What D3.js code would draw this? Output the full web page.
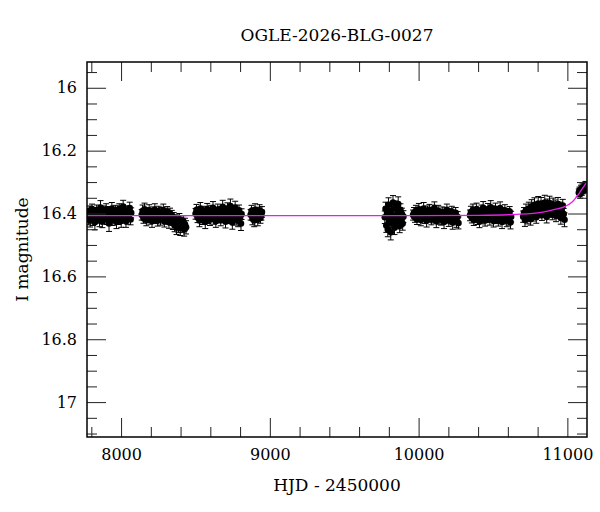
<!DOCTYPE html>
<html>
<head>
<meta charset="utf-8">
<script src="https://cdn.jsdelivr.net/npm/d3@7"></script>
<style>
  body { margin: 0; background: #fff; }
  text { font-family: "DejaVu Serif", serif; fill: #000; }
</style>
</head>
<body>
<div id="chart-area"></div>
<script>
// photometry per observing season: [HJD-2450000, I mag, error]
var season1 = [[7774,16.402,.016],[7780,16.418,.018],[7786,16.391,.015],[7792,16.423,.02],[7798,16.408,.017],[7805,16.386,.016],[7811,16.419,.019],[7817,16.398,.015],[7824,16.428,.024],[7830,16.404,.017],[7836,16.389,.016],[7843,16.412,.018],[7849,16.396,.015],[7855,16.422,.02],[7862,16.381,.022],[7868,16.409,.016],[7874,16.426,.019],[7881,16.393,.017],[7887,16.414,.016],[7893,16.401,.015],[7900,16.387,.018],[7906,16.418,.017],[7912,16.406,.016],[7919,16.432,.025],[7925,16.395,.017],[7931,16.411,.016],[7938,16.384,.019],[7944,16.420,.018],[7950,16.399,.015],[7957,16.413,.017],[7963,16.390,.016],[7969,16.427,.021],[7976,16.403,.017],[7982,16.417,.018],[7988,16.385,.016],[7995,16.409,.015],[8001,16.424,.02],[8007,16.397,.017],[8014,16.378,.02],[8020,16.412,.016],[8026,16.400,.017],[8033,16.425,.019],[8039,16.392,.016],[8045,16.416,.018],[8052,16.405,.015],[8058,16.383,.019],[8064,16.419,.017],[8068,16.398,.016]];
var season2 = [[8139,16.404,.017],[8145,16.392,.019],[8151,16.415,.016],[8158,16.387,.02],[8164,16.409,.017],[8170,16.421,.018],[8177,16.398,.016],[8183,16.412,.017],[8189,16.390,.018],[8196,16.418,.016],[8202,16.403,.017],[8208,16.424,.02],[8215,16.395,.016],[8221,16.410,.017],[8227,16.388,.019],[8234,16.416,.016],[8240,16.401,.017],[8246,16.422,.018],[8253,16.393,.016],[8259,16.407,.015],[8265,16.419,.018],[8272,16.397,.016],[8278,16.413,.017],[8284,16.389,.019],[8291,16.425,.018],[8297,16.402,.016],[8303,16.417,.017],[8310,16.394,.016],[8316,16.411,.015],[8322,16.428,.019],[8329,16.400,.017],[8335,16.419,.018],[8341,16.406,.016],[8348,16.431,.02],[8354,16.414,.017],[8360,16.437,.021],[8367,16.422,.018],[8373,16.445,.022],[8379,16.428,.019],[8386,16.441,.02],[8392,16.418,.018],[8398,16.447,.023],[8405,16.432,.019],[8411,16.439,.021],[8418,16.425,.018],[8424,16.450,.022],[8430,16.435,.02],[8437,16.444,.021]];
var season3 = [[8501,16.401,.017],[8507,16.389,.018],[8514,16.413,.016],[8520,16.396,.017],[8527,16.422,.02],[8533,16.384,.019],[8540,16.408,.016],[8546,16.418,.017],[8553,16.393,.016],[8559,16.411,.018],[8566,16.427,.021],[8572,16.399,.016],[8579,16.386,.018],[8585,16.415,.017],[8592,16.404,.015],[8598,16.420,.018],[8605,16.391,.017],[8611,16.409,.016],[8618,16.382,.02],[8624,16.417,.017],[8631,16.398,.016],[8637,16.425,.019],[8644,16.406,.017],[8650,16.388,.018],[8657,16.414,.016],[8663,16.395,.017],[8670,16.421,.018],[8676,16.403,.016],[8683,16.379,.021],[8689,16.411,.017],[8696,16.392,.016],[8702,16.426,.02],[8709,16.407,.017],[8715,16.385,.019],[8722,16.416,.016],[8728,16.398,.017],[8735,16.376,.022],[8741,16.412,.018],[8748,16.429,.021],[8754,16.394,.016],[8761,16.405,.017],[8767,16.381,.02],[8774,16.419,.018],[8780,16.400,.016],[8787,16.423,.019],[8793,16.390,.017],[8800,16.414,.016],[8806,16.432,.022],[8810,16.402,.017]];
var season4 = [[8871,16.404,.017],[8877,16.392,.018],[8883,16.417,.019],[8889,16.398,.016],[8895,16.422,.02],[8901,16.388,.019],[8907,16.411,.017],[8913,16.396,.016],[8919,16.420,.019],[8925,16.402,.017],[8931,16.390,.018],[8937,16.414,.017],[8943,16.405,.016],[8947,16.395,.017]];
var season5 = [[9773,16.412,.02],[9778,16.385,.021],[9783,16.438,.022],[9788,16.398,.019],[9793,16.451,.023],[9798,16.372,.022],[9803,16.425,.02],[9808,16.405,.019],[9813,16.460,.024],[9818,16.390,.02],[9823,16.432,.021],[9828,16.365,.022],[9833,16.418,.019],[9838,16.445,.022],[9843,16.380,.02],[9848,16.408,.019],[9853,16.428,.021],[9858,16.395,.02],[9863,16.370,.023],[9868,16.415,.02],[9873,16.440,.021],[9878,16.388,.019],[9883,16.422,.02],[9888,16.402,.019],[9893,16.432,.021],[9898,16.410,.019]];
var season6 = [[9963,16.405,.016],[9969,16.398,.017],[9976,16.412,.016],[9982,16.392,.018],[9989,16.418,.017],[9995,16.403,.016],[10002,16.387,.019],[10008,16.410,.016],[10015,16.421,.018],[10021,16.396,.016],[10028,16.408,.015],[10034,16.384,.019],[10041,16.415,.017],[10047,16.400,.016],[10054,16.423,.02],[10060,16.393,.017],[10067,16.411,.016],[10073,16.389,.018],[10080,16.405,.015],[10086,16.419,.017],[10093,16.397,.016],[10099,16.413,.017],[10106,16.382,.019],[10112,16.407,.016],[10119,16.425,.02],[10125,16.401,.016],[10132,16.391,.017],[10138,16.416,.018],[10145,16.404,.016],[10151,16.420,.017],[10158,16.395,.016],[10164,16.410,.015],[10171,16.427,.021],[10177,16.399,.017],[10184,16.414,.016],[10190,16.388,.018],[10197,16.406,.016],[10203,16.422,.019],[10210,16.402,.017],[10216,16.417,.016],[10223,16.394,.017],[10229,16.429,.021],[10236,16.408,.016],[10242,16.418,.018],[10249,16.398,.017],[10255,16.424,.02],[10262,16.411,.017],[10268,16.430,.019]];
var season7 = [[10346,16.406,.017],[10352,16.395,.018],[10358,16.414,.016],[10365,16.389,.019],[10371,16.420,.018],[10377,16.401,.016],[10384,16.412,.017],[10390,16.386,.019],[10396,16.418,.017],[10403,16.398,.016],[10409,16.425,.02],[10415,16.404,.016],[10422,16.391,.018],[10428,16.416,.017],[10434,16.382,.02],[10441,16.409,.016],[10447,16.422,.018],[10453,16.396,.017],[10460,16.413,.016],[10466,16.387,.019],[10472,16.403,.015],[10479,16.419,.018],[10485,16.380,.021],[10491,16.408,.016],[10498,16.393,.017],[10504,16.424,.019],[10510,16.400,.016],[10517,16.385,.018],[10523,16.415,.017],[10529,16.396,.016],[10536,16.421,.019],[10542,16.405,.016],[10548,16.383,.02],[10555,16.411,.017],[10561,16.427,.021],[10567,16.398,.016],[10574,16.416,.017],[10580,16.390,.018],[10586,16.408,.016],[10593,16.423,.019],[10599,16.401,.017],[10605,16.419,.018],[10612,16.394,.016],[10618,16.428,.021],[10622,16.410,.017]];
var season8 = [[10703,16.410,.018],[10709,16.398,.017],[10715,16.421,.02],[10722,16.389,.019],[10728,16.405,.016],[10734,16.415,.018],[10741,16.384,.02],[10747,16.400,.016],[10753,16.418,.019],[10760,16.377,.021],[10766,16.395,.017],[10772,16.408,.016],[10779,16.372,.022],[10785,16.390,.018],[10791,16.412,.019],[10798,16.381,.017],[10804,16.368,.022],[10810,16.398,.016],[10817,16.386,.018],[10823,16.370,.021],[10829,16.405,.017],[10836,16.378,.018],[10842,16.392,.016],[10848,16.365,.023],[10855,16.384,.017],[10861,16.411,.019],[10867,16.374,.02],[10874,16.389,.017],[10880,16.367,.022],[10886,16.396,.016],[10893,16.380,.018],[10899,16.403,.017],[10905,16.372,.021],[10912,16.390,.016],[10918,16.376,.019],[10924,16.408,.018],[10931,16.385,.017],[10937,16.370,.021],[10943,16.398,.016],[10950,16.382,.018],[10956,16.414,.02],[10962,16.388,.017],[10969,16.375,.02],[10975,16.402,.018],[10981,16.420,.022]];
var season9 = [[11077,16.334,.012],[11082,16.327,.011],[11087,16.338,.013],[11092,16.322,.012],[11097,16.331,.011],[11102,16.318,.012],[11107,16.326,.011],[11112,16.315,.012],[11117,16.322,.011],[11122,16.310,.012],[11127,16.316,.011]];

// model light curve
var modelT = [7771, 8500, 9000, 9500, 10000, 10400, 10600, 10800, 10915, 10982, 11030, 11076, 11105, 11132];
var modelI = [16.407, 16.407, 16.407, 16.407, 16.407, 16.406, 16.404, 16.398, 16.387, 16.378, 16.364, 16.338, 16.318, 16.298];

var xMajor = [8000, 9000, 10000, 11000];
var xMinor = [7800, 8200, 8400, 8600, 8800, 9200, 9400, 9600, 9800, 10200, 10400, 10600, 10800];
var yMajor = [16, 16.2, 16.4, 16.6, 16.8, 17];
var yMinor = [15.95, 16.05, 16.1, 16.15, 16.25, 16.3, 16.35, 16.45, 16.5, 16.55, 16.65, 16.7, 16.75, 16.85, 16.9, 16.95, 17.05, 17.1];

var title = "OGLE-2026-BLG-0027";

var W = 600, H = 512;
var margin = { left: 87, right: 13, top: 62, bottom: 75 };
var width = W - margin.left - margin.right;
var height = H - margin.top - margin.bottom;

var svg = d3
  .select("#chart-area")
  .append("svg")
  .attr("width", W)
  .attr("height", H);

var g = svg
  .append("g")
  .attr("transform", "translate(" + margin.left + "," + margin.top + ")");

var x = d3.scaleLinear().domain([7771, 11132]).range([0, width]);
var y = d3.scaleLinear().domain([15.918, 17.111]).range([0, height]);

g.append("clipPath")
  .attr("id", "plot-clip")
  .append("rect")
  .attr("width", width)
  .attr("height", height);

var points = [].concat(season1, season2, season3, season4, season5, season6, season7, season8, season9);

var marks = g.append("g").attr("clip-path", "url(#plot-clip)");

// error bars
var bars = marks.append("g").attr("stroke", "#000").attr("stroke-width", 1);
bars.selectAll(".ebar")
  .data(points)
  .enter()
  .append("line")
  .attr("x1", function (d) { return x(d[0]); })
  .attr("x2", function (d) { return x(d[0]); })
  .attr("y1", function (d) { return y(d[1] - d[2]); })
  .attr("y2", function (d) { return y(d[1] + d[2]); });
bars.selectAll(".cap-top")
  .data(points)
  .enter()
  .append("line")
  .attr("x1", function (d) { return x(d[0]) - 3; })
  .attr("x2", function (d) { return x(d[0]) + 3; })
  .attr("y1", function (d) { return y(d[1] - d[2]); })
  .attr("y2", function (d) { return y(d[1] - d[2]); });
bars.selectAll(".cap-bot")
  .data(points)
  .enter()
  .append("line")
  .attr("x1", function (d) { return x(d[0]) - 3; })
  .attr("x2", function (d) { return x(d[0]) + 3; })
  .attr("y1", function (d) { return y(d[1] + d[2]); })
  .attr("y2", function (d) { return y(d[1] + d[2]); });

marks.selectAll("circle")
  .data(points)
  .enter()
  .append("circle")
  .attr("cx", function (d) { return x(d[0]); })
  .attr("cy", function (d) { return y(d[1]); })
  .attr("r", 3.3)
  .attr("fill", "#000");

/*----model line---- */
var model = modelT.map(function (t, i) { return [t, modelI[i]]; });
marks.append("path")
  .datum(model)
  .attr("fill", "none")
  .attr("stroke", "#e81ee8")
  .attr("stroke-width", 1.3)
  .attr("d", d3.line()
    .x(function (d) { return x(d[0]); })
    .y(function (d) { return y(d[1]); })
    .curve(d3.curveMonotoneX));

/*----axes, ticks inward on all four sides---- */
function ticks(axis, values, size, transform, labelled, padding) {
  var a = axis.tickValues(values).tickSize(-size).tickSizeOuter(0);
  if (labelled) a.tickPadding(padding).tickFormat(function (d) { return String(d); });
  else a.tickFormat("");
  var sel = g.append("g")
    .attr("transform", transform)
    .call(a);
  sel.select(".domain").remove();
  sel.selectAll("line").attr("stroke", "#222").attr("stroke-width", 1);
  sel.selectAll("text")
    .attr("font-family", "DejaVu Serif")
    .attr("font-size", "16px")
    .attr("fill", "#000");
  return sel;
}

ticks(d3.axisBottom(x), xMajor, 19, "translate(0," + height + ")", true, 12);
ticks(d3.axisBottom(x), xMinor, 10, "translate(0," + height + ")", false);
ticks(d3.axisTop(x), xMajor, 19, "translate(0,0)", false);
ticks(d3.axisTop(x), xMinor, 10, "translate(0,0)", false);
ticks(d3.axisLeft(y), yMajor, 19, "translate(0,0)", true, 10);
ticks(d3.axisLeft(y), yMinor, 10, "translate(0,0)", false);
ticks(d3.axisRight(y), yMajor, 19, "translate(" + width + ",0)", false);
ticks(d3.axisRight(y), yMinor, 10, "translate(" + width + ",0)", false);

g.append("rect")
  .attr("width", width)
  .attr("height", height)
  .attr("fill", "none")
  .attr("stroke", "#000")
  .attr("stroke-width", 1.5);

svg.append("text")
  .attr("x", margin.left + width / 2)
  .attr("y", 41)
  .attr("text-anchor", "middle")
  .attr("font-size", "17px")
  .text(title);

svg.append("text")
  .attr("x", margin.left + width / 2)
  .attr("y", 491)
  .attr("text-anchor", "middle")
  .attr("font-size", "17px")
  .text("HJD - 2450000");

svg.append("text")
  .attr("transform", "translate(28," + (margin.top + height / 2) + ") rotate(-90)")
  .attr("text-anchor", "middle")
  .attr("font-size", "17px")
  .text("I magnitude");
</script>
</body>
</html>
